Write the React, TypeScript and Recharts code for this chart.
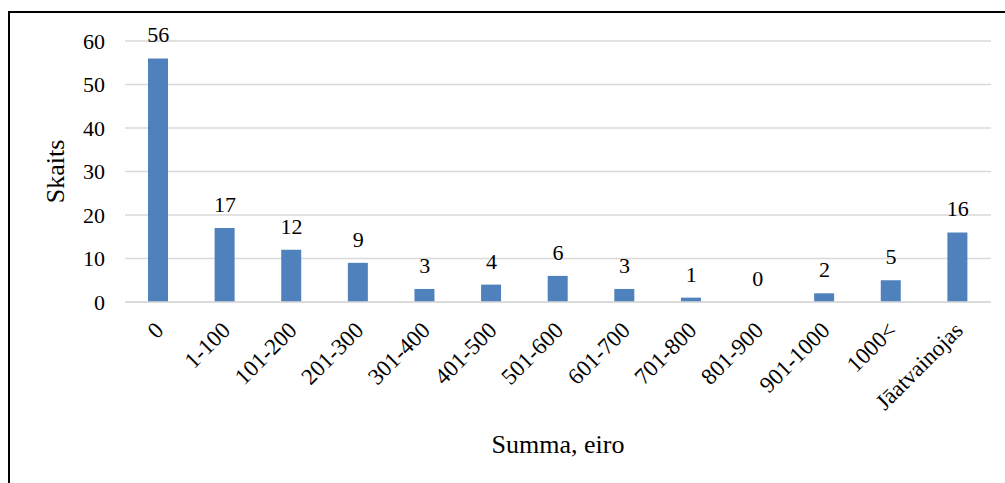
import React from "react";
import { ComposedChart, Bar, Line, XAxis, YAxis, CartesianGrid, LabelList, Label } from "recharts";

const categories = ["0", "1-100", "101-200", "201-300", "301-400", "401-500", "501-600", "601-700", "701-800", "801-900", "901-1000", "1000<", "Jāatvainojas"];
const counts = [56, 17, 12, 9, 3, 4, 6, 3, 1, 0, 2, 5, 16];
const yTicks = [0, 10, 20, 30, 40, 50, 60];

const data = categories.map((c, i) => ({ name: c, value: counts[i] }));

const FONT = '"Liberation Serif", "Times New Roman", Times, serif';

const XTick = (props: any) => {
  const { x, y, payload } = props;
  const ax = x + 1;
  const ay = y + 16;
  return (
    <text
      x={ax}
      y={ay}
      transform={`rotate(-45, ${ax}, ${ay})`}
      textAnchor="end"
      dy="0.35em"
      fontFamily={FONT}
      fontSize={23}
      fill="#000"
    >
      {payload.value}
    </text>
  );
};

export default function App() {
  return (
    <div style={{ position: "fixed", left: 0, top: 0, width: 1005, height: 483, background: "#fff", overflow: "hidden", fontFamily: FONT }}>
      <div
        style={{
          position: "absolute",
          left: 8,
          top: 11,
          width: 1020,
          height: 500,
          border: "2px solid #000",
          boxSizing: "border-box",
        }}
      />
      <div style={{ position: "absolute", left: 0, top: 0 }}>
        <ComposedChart
          width={1005}
          height={483}
          data={data}
          margin={{ top: 41, right: 14, left: 0, bottom: 0 }}
          barCategoryGap={0}
        >
          <CartesianGrid vertical={false} stroke="#D9D9D9" strokeWidth={1.5} />
          <XAxis
            dataKey="name"
            interval={0}
            axisLine={{ stroke: "#D9D9D9", strokeWidth: 1.5 }}
            tickLine={false}
            tick={<XTick />}
            height={181}
          >
            <Label value="Summa, eiro" position="insideBottom" offset={30} style={{ fontFamily: FONT, fontSize: 26, fill: "#000" }} />
          </XAxis>
          <YAxis
            width={125}
            domain={[0, 60]}
            ticks={yTicks}
            axisLine={false}
            tickLine={false}
            tickMargin={14}
            tick={{ fontFamily: FONT, fontSize: 22, fill: "#000" }}
          >
            <Label value="Skaits" angle={-90} position="insideLeft" offset={55} style={{ fontFamily: FONT, fontSize: 26, fill: "#000", textAnchor: "middle" }} />
          </YAxis>
          <Bar dataKey="value" fill="#4F81BD" barSize={20} isAnimationActive={false} />
          <Line dataKey="value" stroke="none" dot={false} activeDot={false} isAnimationActive={false} legendType="none">
            <LabelList dataKey="value" position="top" offset={16} style={{ fontFamily: FONT, fontSize: 22, fill: "#000" }} />
          </Line>
        </ComposedChart>
      </div>
    </div>
  );
}
